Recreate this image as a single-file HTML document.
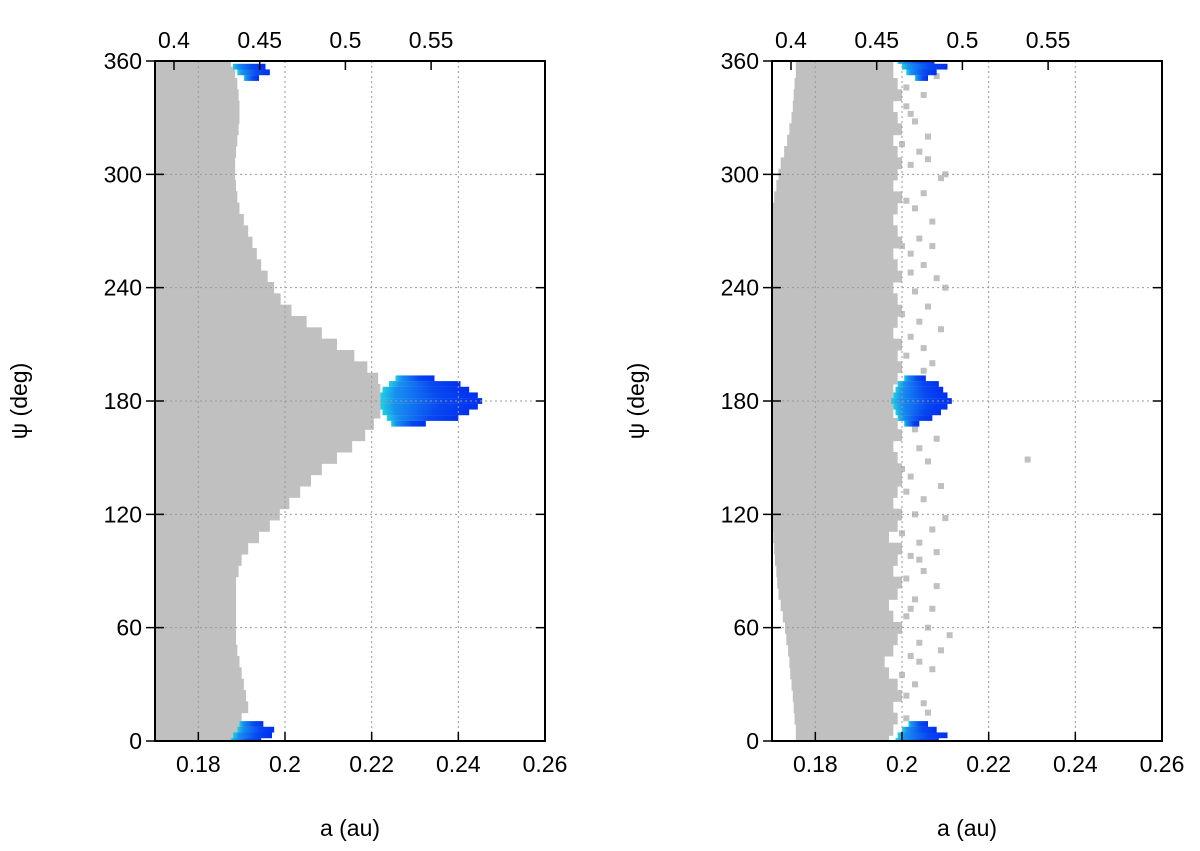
<!DOCTYPE html>
<html><head><meta charset="utf-8"><style>
body{margin:0;background:#fff;}
svg{display:block;font-family:"Liberation Sans",sans-serif;}
</style></head><body>
<svg id="chart" width="1200" height="851" viewBox="0 0 1200 851"></svg>
<script>
const psiStep = 6;
const leftEnd = [0.190,0.190,0.190,0.1915,0.191,0.1905,0.190,0.1895,0.189,0.1887,0.1887,0.1887,0.1887,0.1887,0.1887,0.1893,0.190,0.1915,0.194,0.1965,0.1988,0.201,0.2035,0.206,0.2085,0.212,0.2155,0.2185,0.2205,0.222,0.222,0.222,0.2215,0.219,0.216,0.212,0.2085,0.205,0.2015,0.199,0.1975,0.196,0.1945,0.1935,0.1925,0.1915,0.1905,0.1895,0.189,0.1887,0.1885,0.1885,0.1887,0.189,0.1893,0.1895,0.1895,0.1893,0.189,0.1885,0.1875];
const rightStart = [0.1755,0.1755,0.1752,0.175,0.1748,0.1745,0.1742,0.174,0.1737,0.1733,0.173,0.1725,0.172,0.1715,0.1712,0.171,0.1707,0.1705,0.1703,0.170,0.170,0.170,0.170,0.170,0.170,0.170,0.170,0.170,0.170,0.170,0.170,0.170,0.170,0.170,0.170,0.170,0.170,0.170,0.170,0.170,0.170,0.170,0.170,0.170,0.170,0.170,0.170,0.1702,0.1705,0.171,0.1715,0.172,0.1728,0.1735,0.174,0.1745,0.1748,0.175,0.1752,0.1755,0.1755];
const rightEnd = [0.197,0.198,0.199,0.198,0.2,0.199,0.197,0.196,0.198,0.199,0.2,0.198,0.197,0.199,0.2,0.198,0.199,0.2,0.197,0.199,0.2,0.198,0.199,0.2,0.2,0.199,0.198,0.2,0.199,0.198,0.198,0.198,0.199,0.2,0.199,0.2,0.198,0.199,0.2,0.199,0.198,0.2,0.199,0.198,0.2,0.199,0.198,0.199,0.2,0.198,0.199,0.2,0.199,0.198,0.2,0.199,0.198,0.2,0.199,0.198,0.198];
const rightScatter = [[0.201,12],[0.205,20],[0.203,30],[0.207,38],[0.202,45],[0.204,52],[0.206,60],[0.201,66],[0.203,75],[0.208,82],[0.205,90],[0.202,98],[0.204,105],[0.207,112],[0.203,120],[0.205,128],[0.209,135],[0.202,140],[0.206,148],[0.204,155],[0.208,160],[0.203,165],[0.207,200],[0.205,208],[0.202,214],[0.204,222],[0.206,230],[0.203,238],[0.208,245],[0.205,252],[0.202,258],[0.204,266],[0.207,275],[0.203,282],[0.205,290],[0.209,298],[0.202,305],[0.204,312],[0.206,320],[0.203,328],[0.201,336],[0.205,342],[0.229,149],[0.210,300],[0.208,100],
[0.201,24],[0.2,35],[0.202,70],[0.201,86],[0.2,110],[0.201,132],[0.2,144],[0.201,204],[0.2,226],[0.202,248],[0.2,262],[0.201,286],[0.2,316],[0.202,332],[0.201,346],[0.206,15],[0.204,42],[0.209,48],[0.207,70],[0.211,56],[0.210,118],[0.206,172],[0.205,196],[0.209,218],[0.207,262],[0.206,308],[0.208,352],[0.204,96],[0.203,184],[0.210,240]];
const blueLPsi = [168,171,174,177,180,183,186,189,192,0,3,6,9,351,354,357];
const blueLStart = [0.2245,0.2235,0.2225,0.222,0.222,0.222,0.2225,0.224,0.2255,0.1875,0.188,0.189,0.1895,0.1905,0.189,0.188];
const blueLEnd = [0.2325,0.240,0.2425,0.2445,0.2455,0.2445,0.2425,0.2405,0.2345,0.1945,0.197,0.1975,0.195,0.194,0.1965,0.1955];
const blueRPsi = [168,171,174,177,180,183,186,189,192,0,3,6,9,351,354,357,360];
const blueRStart = [0.2005,0.199,0.1985,0.198,0.1975,0.198,0.1985,0.199,0.2005,0.1985,0.199,0.2,0.2015,0.203,0.201,0.2,0.199];
const blueREnd = [0.204,0.207,0.209,0.2105,0.2115,0.2105,0.2095,0.2085,0.2055,0.2085,0.2105,0.208,0.206,0.206,0.208,0.2105,0.2075];
const bottomTicks = [0.18,0.2,0.22,0.24,0.26];
const topTicks = [0.4,0.45,0.5,0.55];
const yTicks = [0,60,120,180,240,300,360];

const svg = document.getElementById('chart');
const NS = 'http://www.w3.org/2000/svg';
function mk(tag, attrs, parent){const e=document.createElementNS(NS,tag);for(const k in attrs)e.setAttribute(k,attrs[k]);(parent||svg).appendChild(e);return e;}
const yT=0.4-(174-155)/(85.7/0.05);
function panel(x0, name, grayStart, grayEnd, scatter, bPsi, bS, bE){
  const W=390, top=61, bot=741;
  const X=a=>x0+(a-0.17)/0.09*W;
  const Xt=v=>x0+(v-yT)/0.05*85.7;
  const Y=p=>bot-p/360*(bot-top);
  const g=mk('g',{});
  
  
  const clip=mk('clipPath',{id:'c'+x0},g);mk('rect',{x:x0,y:top,width:W,height:bot-top},clip);
  const d=mk('g',{'clip-path':'url(#c'+x0+')'},g);
  grayEnd.forEach((e,i)=>{const p=i*psiStep;const s=grayStart?grayStart[i]:0.17;
    const r=mk('rect',{x:X(s),y:Y(p+psiStep/2),width:Math.max(0,X(e)-X(s)),height:Y(p-psiStep/2)-Y(p+psiStep/2)+0.5,fill:'#c0c0c0'},d);
    });
  scatter.forEach(s=>{const r=mk('rect',{x:X(s[0])-3,y:Y(s[1])-3,width:6,height:6,fill:'#c0c0c0'},d);
    });
  bPsi.forEach((p,i)=>{const r=mk('rect',{x:X(bS[i]),y:Y(p)-2.9,width:X(bE[i])-X(bS[i]),height:5.8,fill:'url(#bg)'},d);
    });
  bottomTicks.forEach(t=>mk('line',{x1:X(t),x2:X(t),y1:top,y2:bot,stroke:'#999','stroke-dasharray':'2,3','stroke-width':1},g));
  yTicks.forEach(t=>mk('line',{x1:x0,x2:x0+W,y1:Y(t),y2:Y(t),stroke:'#999','stroke-dasharray':'2,3','stroke-width':1},g));
  mk('rect',{x:x0,y:top,width:W,height:bot-top,fill:'none',stroke:'#000','stroke-width':2},g);
  bottomTicks.forEach(t=>{mk('line',{x1:X(t),x2:X(t),y1:bot,y2:bot-9,stroke:'#000','stroke-width':1.5},g);
    const tx=mk('text',{x:X(t),y:bot+31,'font-size':23,'text-anchor':'middle'},g);tx.textContent=t;
    });
  topTicks.forEach(t=>{mk('line',{x1:Xt(t),x2:Xt(t),y1:top,y2:top+9,stroke:'#000','stroke-width':1.5},g);
    const tx=mk('text',{x:Xt(t),y:top-13,'font-size':23,'text-anchor':'middle'},g);tx.textContent=t;
    });
  yTicks.forEach(t=>{mk('line',{x1:x0-9,x2:x0+9,y1:Y(t),y2:Y(t),stroke:'#000','stroke-width':1.5},g);
    mk('line',{x1:x0+W-9,x2:x0+W,y1:Y(t),y2:Y(t),stroke:'#000','stroke-width':1.5},g);
    const tx=mk('text',{x:x0-13,y:Y(t)+8,'font-size':23,'text-anchor':'end'},g);tx.textContent=t;
    });
  const xl=mk('text',{x:x0+W/2,y:836,'font-size':23,'text-anchor':'middle'},g);xl.textContent='a (au)';
  
  const yl=mk('text',{x:0,y:0,'font-size':23,'text-anchor':'middle',transform:`translate(${x0-128},${(top+bot)/2}) rotate(-90)`},g);yl.textContent='ψ (deg)';
  
}
const defs=mk('defs',{});const lg=mk('linearGradient',{id:'bg',x1:0,x2:1,y1:0,y2:0},defs);
mk('stop',{offset:'0','stop-color':'#20d0e0'},lg);mk('stop',{offset:'0.15','stop-color':'#1890f0'},lg);mk('stop',{offset:'0.6','stop-color':'#0848f0'},lg);mk('stop',{offset:'1','stop-color':'#0030f0'},lg);
panel(155,'left-panel',null,leftEnd,[],blueLPsi,blueLStart,blueLEnd);
panel(772,'right-panel',rightStart,rightEnd,rightScatter,blueRPsi,blueRStart,blueREnd);
</script>
</body></html>
